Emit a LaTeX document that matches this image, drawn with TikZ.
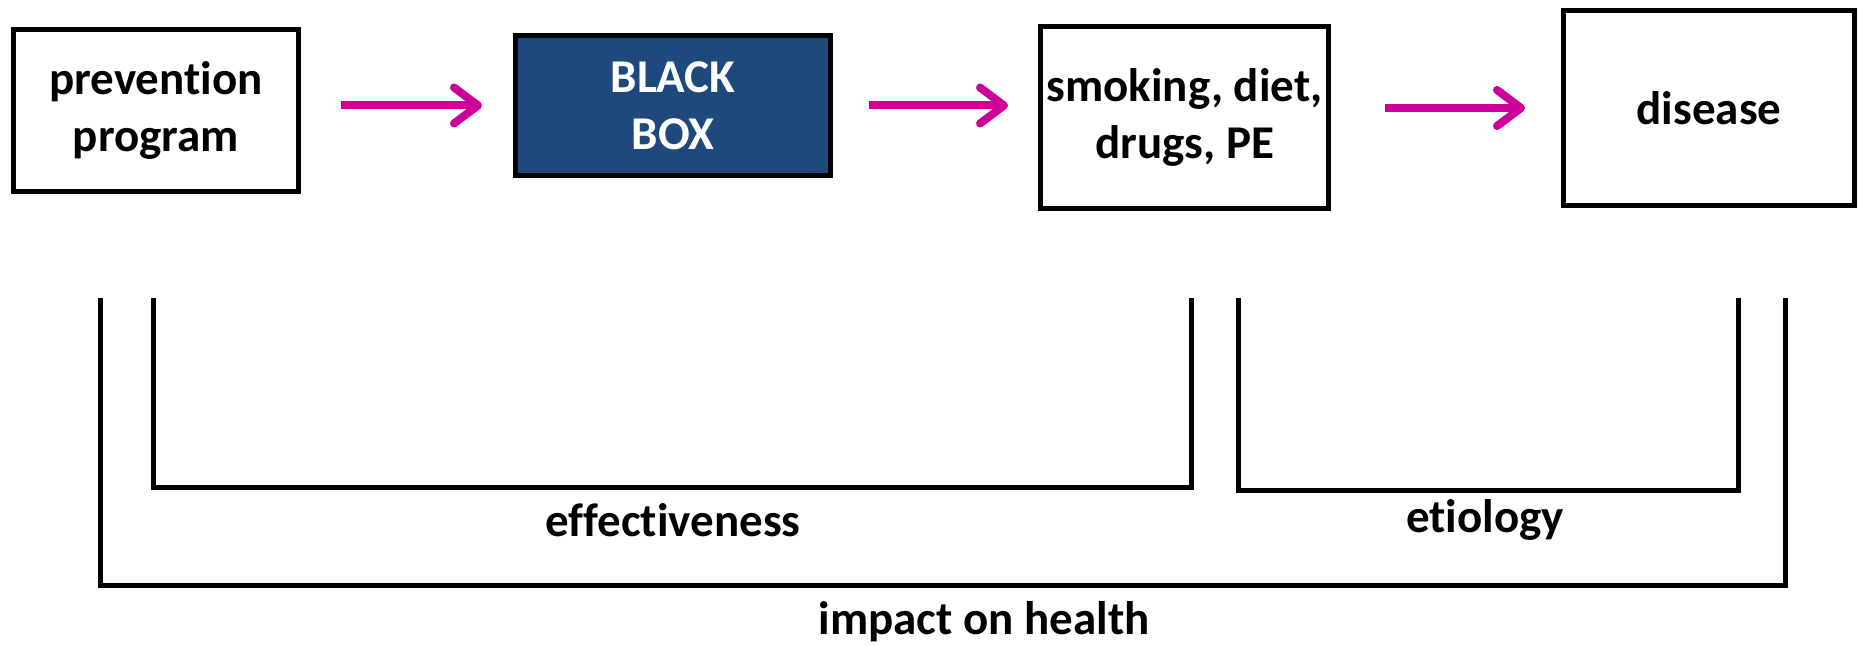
\documentclass[tikz,border=0pt]{standalone}
\usepackage{fontspec}
\setmainfont{Carlito}[Ligatures=NoCommon]
\usetikzlibrary{arrows.meta}

\definecolor{boxblue}{RGB}{31,73,125}
\definecolor{arrowpink}{RGB}{204,0,153}

\begin{document}
\begin{tikzpicture}[x=0.5pt, y=-0.5pt,
	every node/.style={font=\fontsize{23.5pt}{28.7pt}\selectfont\bfseries},
	stage/.style={shape=rectangle, draw=black, line width=2.5pt, inner sep=0pt, align=center},
	flow/.style={draw=arrowpink, line width=4pt, -{Straight Barb[length=12pt,width=18pt,round]}},
	bracket/.style={draw=black, line width=2.5pt}]
	\useasboundingbox (0,0) rectangle (1858,646);

	\node[stage, minimum width=142.5pt, minimum height=81pt] (prog) at (156, 110.5)   {prevention\\program};
	\node[stage, minimum width=157.5pt, minimum height=70pt, fill=boxblue, text=white] (bbox) at (673, 105.5)   {BLACK\\BOX};
	\node[stage, minimum width=144pt, minimum height=91pt] (behav) at (1184.5, 117.5)   {smoking, diet,\\drugs, PE};
	\node[stage, minimum width=145.5pt, minimum height=97.5pt] (dis) at (1709, 108)   {disease};

    \draw[flow, shorten <=20pt, shorten >=15.5pt] (prog.east |- bbox.west) -- (bbox.west);
    \draw[flow, shorten <=18pt, shorten >=15pt] (bbox.east) -- (behav.west |- bbox.east);
    \draw[flow, shorten <=27pt, shorten >=18pt, yshift=2.75pt] (behav.east |- dis.west) -- (dis.west);

    % brackets below
    \draw[bracket] (153, 298) -- (153, 488) -- (1191, 488) -- (1191, 298);
    \draw[bracket] (1238, 298) -- (1238, 490.5) -- (1738, 490.5) -- (1738, 298);
    \draw[bracket] (100, 298) -- (100, 585.5) -- (1785, 585.5) -- (1785, 298);

	\node[anchor=base] (eff) at (673, 537)     {effectiveness};
	\node[anchor=base] (eti) at (1485, 532)    {etiology};
	\node[anchor=base] (imp) at (984, 634)     {impact on health};
\end{tikzpicture}
\end{document}
